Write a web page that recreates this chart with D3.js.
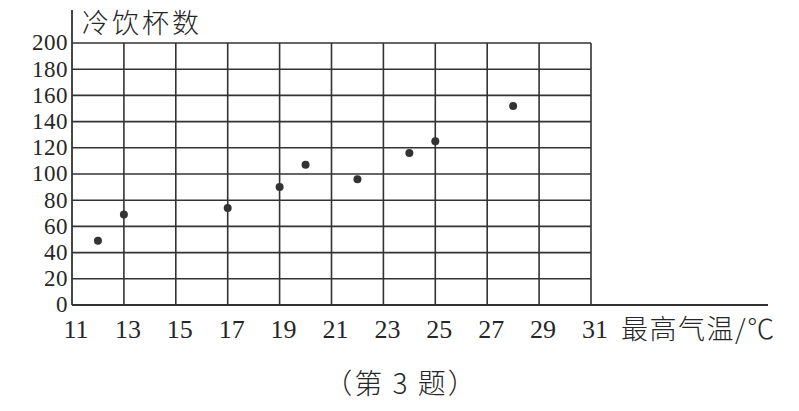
<!DOCTYPE html>
<html>
<head>
<meta charset="utf-8">
<script src="https://cdn.jsdelivr.net/npm/d3@7"></script>
<style>
  body { margin: 0; background: #fff; }
  svg text { fill: #262626; }
  .num { font-family: "Liberation Serif", "DejaVu Serif", serif; }
  .cjk { font-family: "Noto Sans CJK SC", sans-serif; font-weight: 300; }
</style>
</head>
<body>
<div id="chart"></div>
<script>
// 最高气温 (℃) and 冷饮杯数
var temps = [12, 13, 17, 19, 20, 22, 24, 25, 28];
var cups = [49, 69, 74, 90, 107, 96, 116, 125, 152];
var xTicks = [11, 13, 15, 17, 19, 21, 23, 25, 27, 29, 31];
var yTicks = [0, 20, 40, 60, 80, 100, 120, 140, 160, 180, 200];

var width = 799, height = 411;
var margin = {top: 43, right: 208, bottom: 106, left: 72};
var plotW = width - margin.left - margin.right;
var plotH = height - margin.top - margin.bottom;
var ink = '#333';

var svg = d3.select('#chart').append('svg')
  .attr('width', width)
  .attr('height', height);

var xScale = d3.scaleLinear().domain([11, 31]).range([margin.left, margin.left + plotW]);
var yScale = d3.scaleLinear().domain([0, 200]).range([margin.top + plotH, margin.top]);

// grid
svg.append('g')
  .selectAll('line')
  .data(xTicks.slice(1))
  .enter().append('line')
  .attr('x1', d => xScale(d)).attr('x2', d => xScale(d))
  .attr('y1', yScale(0)).attr('y2', yScale(200))
  .attr('stroke', ink).attr('stroke-width', 1.6);

svg.append('g')
  .selectAll('line')
  .data(yTicks.slice(1))
  .enter().append('line')
  .attr('x1', xScale(11)).attr('x2', xScale(31))
  .attr('y1', d => yScale(d)).attr('y2', d => yScale(d))
  .attr('stroke', ink).attr('stroke-width', 1.6);

// axis lines
svg.append('line')
  .attr('x1', xScale(11)).attr('x2', xScale(11))
  .attr('y1', 10).attr('y2', yScale(0))
  .attr('stroke', ink).attr('stroke-width', 1.8);
svg.append('line')
  .attr('x1', xScale(11)).attr('x2', 768)
  .attr('y1', yScale(0)).attr('y2', yScale(0))
  .attr('stroke', ink).attr('stroke-width', 1.8);

// tick labels
svg.append('g')
  .selectAll('text')
  .data(yTicks)
  .enter().append('text')
  .attr('class', 'num')
  .attr('font-size', 23)
  .attr('x', xScale(11) - 4)
  .attr('y', d => yScale(d))
  .attr('dy', '0.32em')
  .attr('text-anchor', 'end')
  .attr('letter-spacing', 0.5)
  .text(d => d);

// labels sit a little right of their grid lines, as in the original
svg.append('g')
  .selectAll('text')
  .data(xTicks)
  .enter().append('text')
  .attr('class', 'num')
  .attr('font-size', 26)
  .attr('x', d => xScale(d) + 4)
  .attr('y', 338)
  .attr('text-anchor', 'middle')
  .text(d => d);

// axis titles
svg.append('text')
  .attr('class', 'cjk')
  .attr('font-size', 27)
  .attr('letter-spacing', 3)
  .attr('x', 82)
  .attr('y', 33)
  .text('冷饮杯数');

svg.append('text')
  .attr('class', 'cjk')
  .attr('font-size', 27)
  .attr('letter-spacing', 1.5)
  .attr('x', 621)
  .attr('y', 339)
  .text('最高气温/℃');

svg.append('text')
  .attr('class', 'cjk')
  .attr('font-size', 28)
  .attr('letter-spacing', 2)
  .attr('x', 401)
  .attr('y', 394)
  .attr('text-anchor', 'middle')
  .text('（第 3 题）');

// points
svg.append('g')
  .selectAll('circle')
  .data(temps)
  .enter().append('circle')
  .attr('cx', d => xScale(d))
  .attr('cy', (d, i) => yScale(cups[i]))
  .attr('r', 4)
  .attr('fill', ink);
</script>
</body>
</html>
